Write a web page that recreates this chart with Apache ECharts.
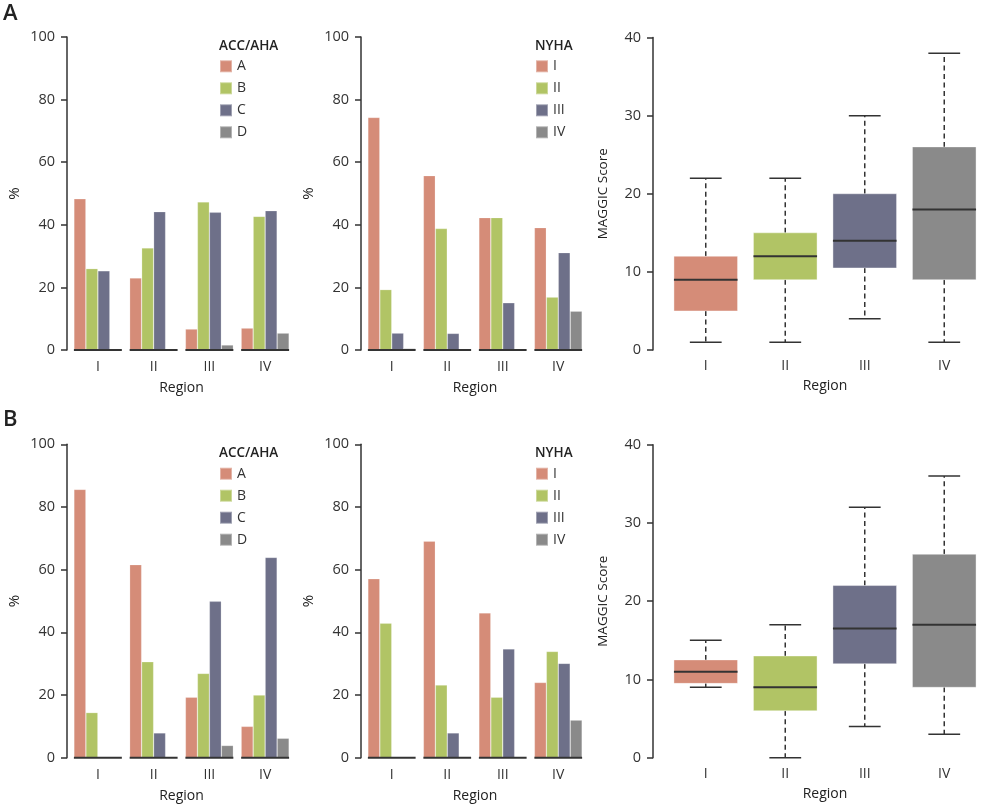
<!DOCTYPE html>
<html>
<head>
<meta charset="utf-8">
<script src="https://cdn.jsdelivr.net/npm/echarts@6/dist/echarts.min.js"></script>
<style>
html,body{margin:0;padding:0;background:#fff;}
#chart{width:984px;height:807px;}
</style>
</head>
<body>
<div id="chart"></div>
<script>
// ---------- DATA ----------
const regions = ['I', 'II', 'III', 'IV'];
const accNames = ['A', 'B', 'C', 'D'];
const nyhaNames = ['I', 'II', 'III', 'IV'];
const yTicksPct = [0, 20, 40, 60, 80, 100];
const yTicksScore = [0, 10, 20, 30, 40];

// Panel A — ACC/AHA stage (% by region)
const accA_A = [48.3, 23.0, 6.7, 7.0];
const accA_B = [26.0, 32.6, 47.3, 42.7];
const accA_C = [25.3, 44.2, 44.0, 44.5];
const accA_D = [0, 0, 1.6, 5.4];
// Panel A — NYHA class (% by region)
const nyhaA_I = [74.3, 55.7, 42.3, 39.1];
const nyhaA_II = [19.3, 38.8, 42.3, 16.9];
const nyhaA_III = [5.4, 5.3, 15.1, 31.1];
const nyhaA_IV = [0.5, 0, 0, 12.4];
// Panel A — MAGGIC score [min, q1, median, q3, max]
const maggicA = [[1, 5, 9, 12, 22], [1, 9, 12, 15, 22], [4, 10.5, 14, 20, 30], [1, 9, 18, 26, 38]];

// Panel B — ACC/AHA stage
const accB_A = [85.6, 61.6, 19.3, 10.0];
const accB_B = [14.4, 30.6, 26.9, 20.0];
const accB_C = [0, 7.9, 49.9, 63.9];
const accB_D = [0, 0, 3.9, 6.2];
// Panel B — NYHA class
const nyhaB_I = [57.1, 69.1, 46.2, 24.0];
const nyhaB_II = [42.9, 23.2, 19.3, 33.9];
const nyhaB_III = [0, 7.9, 34.7, 30.1];
const nyhaB_IV = [0, 0, 0, 12.0];
// Panel B — MAGGIC score
const maggicB = [[9, 9.5, 11, 12.5, 15], [0, 6, 9, 13, 17], [4, 12, 16.5, 22, 32], [3, 9, 17, 26, 36]];

// ---------- STYLE ----------
const colors = ['#D58C78', '#B1C465', '#6E7089', '#8A8A8A'];
const FONT = 'Open Sans';
const TXT = '#333';

const grids = [
  {left: 70, top: 37, width: 223, height: 313},
  {left: 364, top: 37, width: 222, height: 313},
  {left: 666, top: 37.5, width: 321, height: 312.5},
  {left: 70, top: 444.3, width: 223, height: 313.4},
  {left: 364, top: 444.3, width: 222, height: 313.4},
  {left: 666, top: 444.7, width: 321, height: 313}
];

function xAxisDef(gi, isScore) {
  return {
    type: 'category', gridIndex: gi, data: regions,
    axisLine: {show: false}, axisTick: {show: false},
    axisLabel: {fontFamily: FONT, fontSize: 14, color: TXT, margin: isScore ? 9 : 10},
    name: 'Region', nameLocation: 'middle', nameGap: isScore ? 29 : 31,
    nameTextStyle: {fontFamily: FONT, fontSize: 14, color: '#222', fontWeight: 500}
  };
}
function yAxisDef(gi, isScore) {
  return {
    type: 'value', gridIndex: gi,
    min: 0, max: isScore ? 40 : 100, interval: isScore ? 10 : 20,
    offset: isScore ? 13 : 3,
    axisLine: {show: true, lineStyle: {color: '#333', width: 1.5}},
    axisTick: {show: true, length: 6, lineStyle: {color: '#333', width: 1.5}},
    axisLabel: {fontFamily: FONT, fontSize: 14.5, color: TXT, margin: 12},
    splitLine: {show: false},
    name: isScore ? 'MAGGIC Score' : '%', nameLocation: 'middle', nameGap: isScore ? 43 : 45,
    nameTextStyle: {fontFamily: FONT, fontSize: isScore ? 13.5 : 15, color: '#222'}
  };
}

const series = [];
function addBars(gi, names, arrays) {
  names.forEach((n, k) => {
    series.push({
      type: 'bar', name: n, xAxisIndex: gi, yAxisIndex: gi,
      data: arrays[k], barGap: '0%', barCategoryGap: '14%',
      itemStyle: {color: colors[k], borderColor: 'rgba(255,255,255,0.35)', borderWidth: 0.6},
      emphasis: {disabled: true}
    });
  });
  // baseline segment under each group
  series.push({
    type: 'custom', name: 'base' + gi, xAxisIndex: gi, yAxisIndex: gi, z: 5,
    data: regions.map((r, i) => [i]),
    renderItem: function (params, api) {
      const c = api.coord([api.value(0), 0]);
      const w = api.size([1, 0])[0] * 0.86;
      return {type: 'line', shape: {x1: c[0] - w / 2, y1: c[1], x2: c[0] + w / 2, y2: c[1]},
        style: {stroke: '#333', lineWidth: 2}};
    }
  });
}
function addBox(gi, stats) {
  series.push({
    type: 'custom', name: 'maggic' + gi, xAxisIndex: gi, yAxisIndex: gi,
    data: stats.map((s, i) => [i].concat(s)),
    renderItem: function (params, api) {
      const i = api.value(0);
      const x = api.coord([i, 0])[0];
      const bw = api.size([1, 0])[0] * 0.8;
      const yMin = api.coord([i, api.value(1)])[1];
      const yQ1 = api.coord([i, api.value(2)])[1];
      const yMed = api.coord([i, api.value(3)])[1];
      const yQ3 = api.coord([i, api.value(4)])[1];
      const yMax = api.coord([i, api.value(5)])[1];
      const dash = {stroke: '#333', lineWidth: 1.5, lineDash: [5, 3.5]};
      const solid = {stroke: '#333', lineWidth: 1.5};
      return {type: 'group', children: [
        {type: 'line', shape: {x1: x, y1: yQ3, x2: x, y2: yMax}, style: dash},
        {type: 'line', shape: {x1: x, y1: yQ1, x2: x, y2: yMin}, style: dash},
        {type: 'line', shape: {x1: x - bw / 4, y1: yMax, x2: x + bw / 4, y2: yMax}, style: solid},
        {type: 'line', shape: {x1: x - bw / 4, y1: yMin, x2: x + bw / 4, y2: yMin}, style: solid},
        {type: 'rect', shape: {x: x - bw / 2, y: yQ3, width: bw, height: yQ1 - yQ3},
          style: {fill: colors[i], stroke: 'rgba(255,255,255,0.4)', lineWidth: 1}},
        {type: 'line', shape: {x1: x - bw / 2, y1: yMed, x2: x + bw / 2, y2: yMed},
          style: {stroke: '#333', lineWidth: 2}}
      ]};
    }
  });
}

addBars(0, accNames, [accA_A, accA_B, accA_C, accA_D]);
addBars(1, nyhaNames, [nyhaA_I, nyhaA_II, nyhaA_III, nyhaA_IV]);
addBox(2, maggicA);
addBars(3, accNames, [accB_A, accB_B, accB_C, accB_D]);
addBars(4, nyhaNames, [nyhaB_I, nyhaB_II, nyhaB_III, nyhaB_IV]);
addBox(5, maggicB);

function legendDef(left, top, names) {
  return {
    left: left, top: top, orient: 'vertical', itemWidth: 12, itemHeight: 12, itemGap: 8,
    icon: 'rect', data: names, selectedMode: false, padding: 0,
    textStyle: {fontFamily: FONT, fontSize: 14, color: TXT}
  };
}
function titleDef(text, left, top, size, weight) {
  return {text: text, left: left, top: top, padding: 0,
    textStyle: {fontFamily: FONT, fontSize: size, fontWeight: weight, color: '#222'}};
}

const option = {
  animation: false,
  backgroundColor: '#fff',
  title: [
    titleDef('A', 3, 3, 22, 600),
    titleDef('B', 3, 409, 22, 600),
    titleDef('ACC/AHA', 219, 39, 13.5, 600),
    titleDef('NYHA', 535, 39, 13.5, 600),
    titleDef('ACC/AHA', 219, 446, 13.5, 600),
    titleDef('NYHA', 535, 446, 13.5, 600)
  ],
  legend: [
    legendDef(219, 59.3, accNames),
    legendDef(535, 59.3, nyhaNames),
    legendDef(219, 466.7, accNames),
    legendDef(535, 466.7, nyhaNames)
  ],
  grid: grids,
  xAxis: grids.map((g, i) => xAxisDef(i, i === 2 || i === 5)),
  yAxis: grids.map((g, i) => yAxisDef(i, i === 2 || i === 5)),
  series: series
};

const chart = echarts.init(document.getElementById('chart'), null, {renderer: 'canvas'});
chart.setOption(option);
</script>
</body>
</html>
